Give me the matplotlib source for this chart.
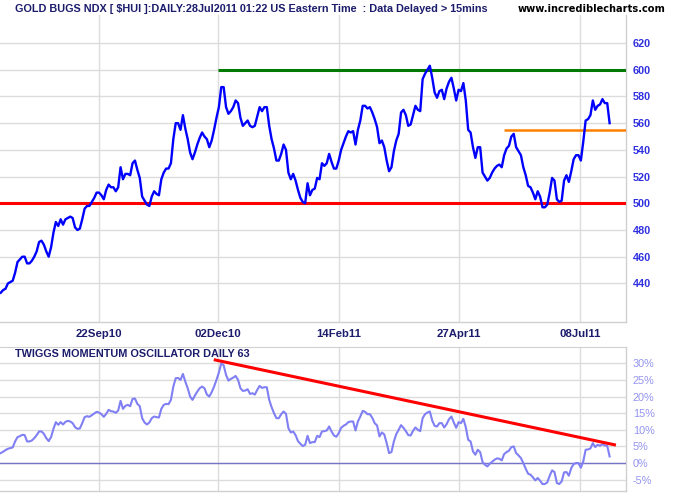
import numpy as np
import matplotlib
matplotlib.use("Agg")
import matplotlib.pyplot as plt

plt.rcParams["font.family"] = ["Liberation Sans", "DejaVu Sans"]

# daily closes of $HUI, one value per trading day (26Jul10 .. 27Jul11)
PRICE = [
    433, 435, 436, 440, 441, 442, 448, 456, 458, 460, 460, 455, 455, 457, 460, 464,
    471, 472, 469, 464, 460, 467, 478, 486, 483, 488, 484, 488, 489, 490, 489, 482,
    480, 481, 488, 496, 498, 498, 501, 504, 508, 508, 506, 503, 510, 514, 512, 512,
    509, 512, 527, 518, 522, 522, 521, 530, 532, 525, 519, 505, 502, 499, 498, 505,
    509, 507, 506, 518, 523, 526, 526, 530, 548, 560, 560, 555, 566, 556, 548, 538,
    533, 538, 544, 549, 553, 550, 548, 542, 547, 555, 564, 572, 587, 587, 572, 567,
    569, 572, 577, 575, 564, 558, 560, 562, 558, 557, 558, 565, 572, 569, 572, 572,
    558, 548, 541, 532, 532, 537, 544, 540, 523, 518, 522, 517, 510, 504, 501, 500,
    515, 506, 510, 511, 519, 518, 530, 528, 530, 537, 531, 526, 526, 532, 540, 545,
    550, 554, 553, 554, 544, 555, 562, 573, 573, 571, 572, 568, 563, 557, 545, 547,
    542, 532, 524, 527, 539, 547, 552, 568, 570, 566, 558, 559, 566, 573, 570, 569,
    593, 597, 600, 603, 594, 583, 579, 584, 585, 578, 586, 591, 594, 586, 577, 585,
    584, 590, 577, 555, 553, 542, 534, 542, 542, 523, 520, 517, 519, 523, 526, 528,
    529, 527, 536, 541, 543, 550, 552, 542, 539, 536, 527, 521, 513, 512, 508, 503,
    509, 505, 497, 497, 499, 508, 519, 517, 503, 501, 502, 517, 521, 516, 524, 533,
    536, 536, 532, 546, 562, 563, 566, 577, 570, 573, 574, 578, 575, 575, 560,
]

# Twiggs momentum oscillator (63 day), percent
MOMENTUM = [
    3.0, 3.4, 3.9, 4.3, 4.5, 4.7, 6.5, 7.8, 8.1, 8.5, 8.4, 6.5, 6.5, 6.8, 7.5, 8.4,
    9.5, 9.5, 8.8, 7.5, 6.6, 7.8, 10.3, 12.3, 11.5, 12.3, 11.6, 12.4, 12.7, 12.5, 12.0, 10.8,
    10.3, 10.4, 12.0, 13.8, 14.1, 13.9, 14.4, 14.9, 15.4, 15.2, 14.7, 13.9, 14.8, 16.0, 15.6, 15.5,
    15.1, 15.8, 18.7, 16.3, 17.2, 17.5, 17.1, 19.3, 19.4, 17.8, 17.1, 13.5, 12.2, 11.6, 12.2, 13.5,
    14.0, 13.8, 13.7, 16.3, 17.5, 17.8, 17.7, 19.0, 23.0, 25.5, 25.6, 25.0, 26.8, 24.5, 22.5, 20.0,
    19.0, 20.3, 21.5, 22.5, 23.0, 22.5, 20.6, 20.0, 21.3, 23.0, 25.0, 27.2, 30.0, 29.4, 26.5, 24.8,
    25.3, 25.7, 26.2, 25.0, 22.5, 21.7, 21.8, 22.2, 20.8, 21.0, 20.6, 22.0, 23.2, 22.6, 22.8, 22.8,
    19.0, 16.8, 15.0, 13.5, 13.5, 14.7, 15.5, 14.8, 10.5, 9.2, 9.5, 8.4, 6.6, 5.8, 5.1, 5.5,
    8.2, 6.0, 6.3, 6.3, 8.2, 7.8, 9.5, 9.6, 9.8, 11.0, 9.5, 8.3, 7.9, 9.0, 10.6, 11.2,
    11.6, 12.3, 12.5, 12.5, 9.8, 12.5, 14.0, 15.7, 15.4, 14.7, 14.7, 13.6, 12.0, 11.3, 8.0, 9.2,
    8.6, 6.0, 3.0, 3.3, 6.5, 8.7, 10.0, 11.4, 10.6, 9.6, 8.4, 8.3, 9.7, 10.7, 10.0, 9.6,
    13.5, 14.7, 15.2, 15.5, 12.8, 11.2, 11.0, 12.0, 12.0, 10.7, 11.7, 13.2, 14.0, 12.2, 10.6, 12.3,
    12.0, 13.3, 10.8, 7.0, 6.5, 3.5, 2.5, 4.0, 3.3, 0.3, -0.5, -1.0, -0.2, 0.4, 1.0, 1.4,
    1.3, 0.8, 2.7, 3.3, 3.7, 4.8, 5.0, 3.0, 2.3, 1.5, 0.0, -1.7, -3.2, -3.5, -4.3, -5.2,
    -4.5, -5.3, -6.3, -6.3, -5.8, -3.8, -2.2, -2.7, -6.0, -6.3, -5.5, -2.8, -2.7, -3.8, -1.5, -0.3,
    0.0, 0.0, -1.4, 0.5, 4.0, 4.1, 4.4, 6.0, 4.8, 5.5, 5.2, 5.7, 5.3, 5.2, 2.0,
]

DATE_LABELS = ["22Sep10", "02Dec10", "14Feb11", "27Apr11", "08Jul11"]
DATE_DAYS = [41, 90.5, 141, 191, 241.7]
PRICE_TICKS = [440, 460, 480, 500, 520, 540, 560, 580, 600, 620]
MOM_TICKS = [-5, 0, 5, 10, 15, 20, 25, 30]

# support / resistance levels drawn on the chart: (level, start day)
RESIST_HIGH = (600, 90.5)
RESIST_SHORT = (555, 210)
SUPPORT = 500
# momentum trendline: (day, value) at each end
TREND_START = (89.5, 31.0)
TREND_END = (256, 5.5)

NAVY = "#1c1c6c"
GRID = "#dcdcdc"

fig = plt.figure(figsize=(6.75, 5.0), dpi=100)
W, H = 675.0, 500.0
xmax = 626 / 2.4

ax = fig.add_axes([0, 1 - 322 / H, 626 / W, 307 / H])
bx = fig.add_axes([0, 1 - 491 / H, 626 / W, 144 / H])

days = np.arange(len(PRICE))
ax.plot(days, PRICE, color="#0000ff", lw=1.7, zorder=4)
ax.axhline(SUPPORT, color="#ff0000", lw=2.2, zorder=3)
ax.hlines(RESIST_HIGH[0], RESIST_HIGH[1], xmax, color="#007a00", lw=2.2, zorder=3)
ax.hlines(RESIST_SHORT[0], RESIST_SHORT[1], xmax, color="#ff8000", lw=1.8, zorder=3)
ax.set_ylim(411.1, 641)
ax.set_yticks(PRICE_TICKS)

mdays = np.arange(len(MOMENTUM))
bx.plot(mdays, MOMENTUM, color="#8080f4", lw=1.5, zorder=4)
bx.axhline(0, color="#7474c8", lw=1.0, zorder=3)
bx.plot([TREND_START[0], TREND_END[0]], [TREND_START[1], TREND_END[1]],
        color="#ff0000", lw=2.2, zorder=5)
bx.set_ylim(-8.4, 34.9)
bx.set_yticks(MOM_TICKS)
bx.set_yticklabels([f"{t}%" for t in MOM_TICKS])

for a in (ax, bx):
    a.set_xlim(-0.3, xmax)
    a.set_xticks(DATE_DAYS)
    a.grid(True, color=GRID, lw=1.0, zorder=0)
    a.set_axisbelow(True)
    a.yaxis.tick_right()
    a.tick_params(length=0)
    for s in ("left", "top"):
        a.spines[s].set_visible(False)
    for s in ("right", "bottom"):
        a.spines[s].set_color("#d0d0d0")
        a.spines[s].set_linewidth(1.0)

bx.spines["top"].set_visible(True)
bx.spines["top"].set_color("#d0d0d0")

ax.set_xticklabels(DATE_LABELS, fontsize=8.2, fontweight="bold", color=NAVY)
ax.tick_params(axis="x", pad=5)
ax.tick_params(axis="y", pad=5, labelsize=7.8, labelcolor="#3030e0")
for lbl in ax.get_yticklabels():
    lbl.set_fontweight("bold")
bx.set_xticklabels([])
bx.tick_params(axis="y", pad=5, labelsize=7.8, labelcolor="#9393f0")

fig.text(15 / W, 1 - 9 / H,
         "GOLD BUGS NDX [ $HUI ]:DAILY:28Jul2011 01:22 US Eastern Time  : Data Delayed > 15mins",
         fontsize=7.85, fontweight="bold", color=NAVY, va="center", ha="left")
fig.text(666 / W, 1 - 9 / H, "www.incrediblecharts.com", family="DejaVu Sans",
         fontsize=7.1, fontweight="bold", color="black", va="center", ha="right")
fig.text(15 / W, 1 - 354 / H, "TWIGGS MOMENTUM OSCILLATOR DAILY 63",
         fontsize=7.85, fontweight="bold", color=NAVY, va="center", ha="left")

fig.savefig("out.png", dpi=100, facecolor="white")
